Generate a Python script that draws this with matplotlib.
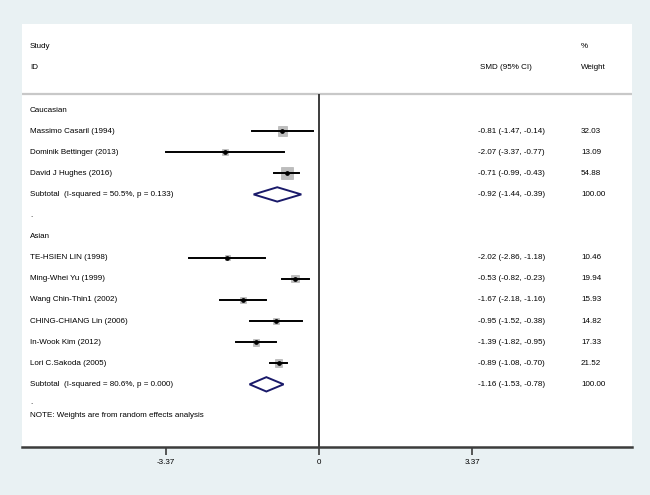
import numpy as np
import matplotlib
matplotlib.use("Agg")
import matplotlib.pyplot as plt
from matplotlib.patches import Polygon, Rectangle

plt.rcParams['font.family'] = ['Liberation Sans', 'DejaVu Sans']

# study level data
groups = ["Caucasian", "Asian"]
studies = [
    ["Massimo Casaril (1994)", "Dominik Bettinger (2013)", "David J Hughes (2016)"],
    ["TE-HSIEN LIN (1998)", "Ming-Whei Yu (1999)", "Wang Chin-Thin1 (2002)",
     "CHING-CHIANG Lin (2006)", "In-Wook Kim (2012)", "Lori C.Sakoda (2005)"],
]
smd = [[-0.81, -2.07, -0.71], [-2.02, -0.53, -1.67, -0.95, -1.39, -0.89]]
lo = [[-1.47, -3.37, -0.99], [-2.86, -0.82, -2.18, -1.52, -1.82, -1.08]]
hi = [[-0.14, -0.77, -0.43], [-1.18, -0.23, -1.16, -0.38, -0.95, -0.70]]
weight = [[32.03, 13.09, 54.88], [10.46, 19.94, 15.93, 14.82, 17.33, 21.52]]

sub_labels = ["Subtotal  (I-squared = 50.5%, p = 0.133)",
              "Subtotal  (I-squared = 80.6%, p = 0.000)"]
sub_smd = [-0.92, -1.16]
sub_lo = [-1.44, -1.53]
sub_hi = [-0.39, -0.78]

xticks = [-3.37, 0, 3.37]

bg = "#e9f1f3"
navy = "#1a1a6a"
fs = 5.8

fig = plt.figure(figsize=(6.5, 4.95), dpi=100, facecolor=bg)
# white plot region in pixels: x 22..632, y 24..447
W, H = 650, 495
ax = fig.add_axes([22 / W, 1 - 447 / H, 610 / W, 423 / H])
ax.set_facecolor("white")

x_left, x_right = -6.542, 6.894
ax.set_xlim(x_left, x_right)
ax.set_ylim(15.97, -4.076)

x_lab = -6.37
x_ci = 3.50
x_w = 5.77

# header
ax.text(x_lab, -3, "Study", fontsize=fs, va="center")
ax.text(x_lab, -2, "ID", fontsize=fs, va="center")
ax.text(x_ci + 0.04, -2, "SMD (95% CI)", fontsize=fs, va="center")
ax.text(x_w, -3, "%", fontsize=fs, va="center")
ax.text(x_w, -2, "Weight", fontsize=fs, va="center")
ax.axhline(-0.76, color="#c8c8c8", lw=1.6)
ax.plot([0, 0], [-0.76, 15.97], color="#3c3c3c", lw=1.4, solid_capstyle="butt")

row = 0
box_k = 0.036  # box side in data units per sqrt(weight)
for g in range(len(groups)):
    ax.text(x_lab, row, groups[g], fontsize=fs, va="center")
    row += 1
    for i in range(len(studies[g])):
        ax.text(x_lab, row, studies[g][i], fontsize=fs, va="center")
        side = box_k * np.sqrt(weight[g][i])
        side_y = side * 45.4 / 21.1
        ax.add_patch(Rectangle((smd[g][i] - side / 2, row - side_y / 2), side, side_y,
                               facecolor="#bdbdbd", edgecolor="#a8a8a8", lw=0.4, zorder=2))
        ax.plot([lo[g][i], hi[g][i]], [row, row], color="black", lw=1.4, zorder=3)
        ax.plot(smd[g][i], row, "o", color="black", ms=2.4, zorder=4)
        ax.text(x_ci, row, "%.2f (%.2f, %.2f)" % (smd[g][i], lo[g][i], hi[g][i]),
                fontsize=fs, va="center")
        ax.text(x_w, row, "%.2f" % weight[g][i], fontsize=fs, va="center")
        row += 1
    ax.text(x_lab, row, sub_labels[g], fontsize=fs, va="center")
    h = 0.34
    ax.add_patch(Polygon([[sub_lo[g], row], [sub_smd[g], row - h], [sub_hi[g], row],
                          [sub_smd[g], row + h]], closed=True, facecolor="white",
                         edgecolor=navy, lw=1.4, zorder=3))
    ax.text(x_ci, row, "%.2f (%.2f, %.2f)" % (sub_smd[g], sub_lo[g], sub_hi[g]),
            fontsize=fs, va="center")
    ax.text(x_w, row, "100.00", fontsize=fs, va="center")
    row += 1
    if g == 0:
        ax.text(x_lab, row, ".", fontsize=fs, va="center")
        row += 1

ax.text(x_lab, row - 0.15, ".", fontsize=fs, va="center")
ax.text(x_lab, row + 0.5, "NOTE: Weights are from random effects analysis", fontsize=fs, va="center")

for s in ["top", "right", "left"]:
    ax.spines[s].set_visible(False)
ax.spines["bottom"].set_color("#3c3c3c")
ax.spines["bottom"].set_linewidth(1.8)
ax.set_yticks([])
ax.set_xticks(xticks)
ax.set_xticklabels(["-3.37", "0", "3.37"], fontsize=fs)
ax.tick_params(axis="x", length=6, width=1.2, color="#3c3c3c", pad=3)

fig.savefig("out.png", dpi=100, facecolor=bg)
